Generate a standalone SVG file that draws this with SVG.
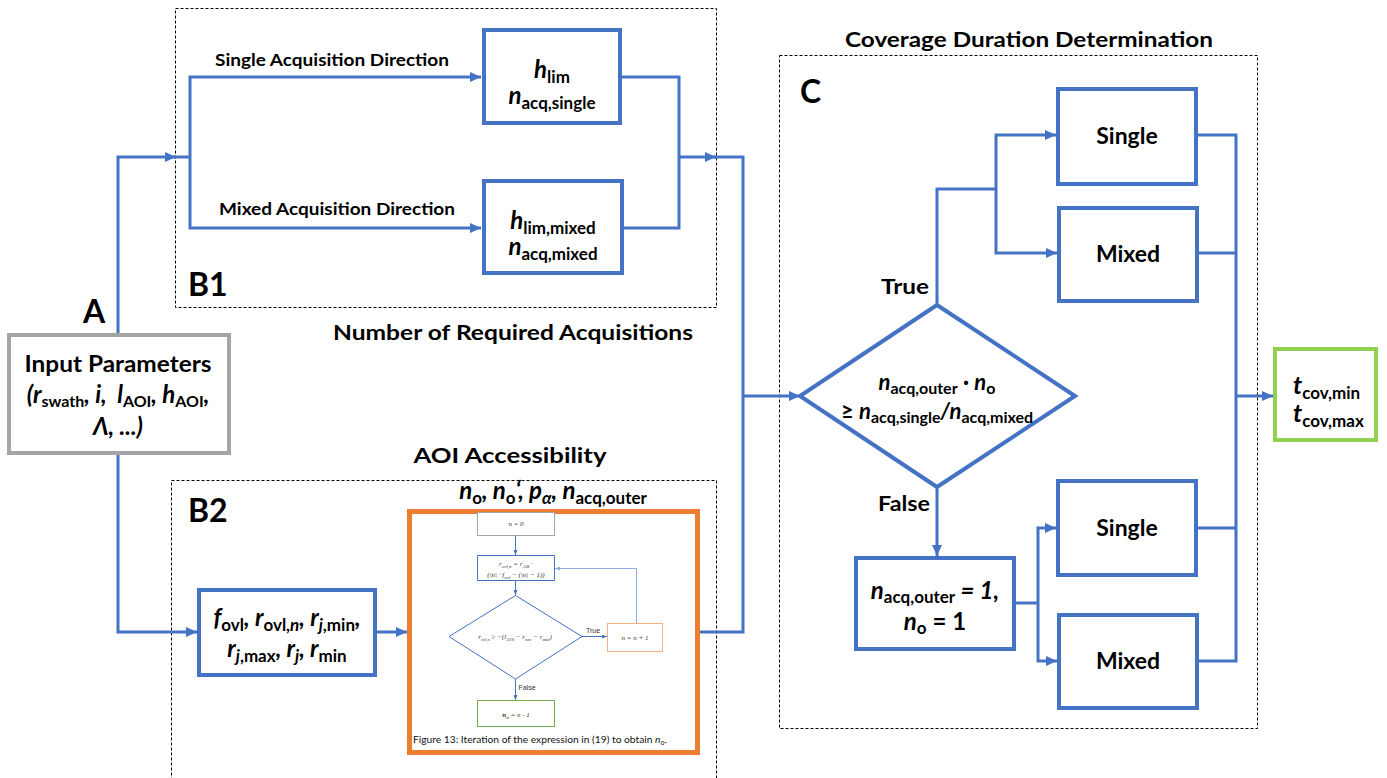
<svg xmlns="http://www.w3.org/2000/svg" width="1387" height="778" viewBox="0 0 1387 778">
<style>
.lbl{font-family:Lato,"Liberation Sans",sans-serif;font-weight:bold;fill:#000}
.m{font-family:Lato,"Liberation Sans",sans-serif;font-weight:bold;font-style:italic;fill:#000}
.s{font-style:normal}
.si{font-style:italic}
.box{fill:#fff;stroke:#4472C4;stroke-width:4}
.dash{fill:none;stroke:#000;stroke-width:1;stroke-dasharray:3,2}
.con{fill:none;stroke:#4472C4;stroke-width:3}
.thin{fill:none;stroke:#4472C4;stroke-width:1}
.tiny{font-family:"Liberation Serif",serif;font-style:italic;font-size:7px;fill:#333}
.tinys{font-family:"Liberation Sans",sans-serif;font-size:7px;fill:#333}
</style>
<defs>
<marker id="arr" markerUnits="userSpaceOnUse" markerWidth="11" markerHeight="10" refX="11" refY="5" orient="auto"><path d="M0,0 L11,5 L0,10 z" fill="#4472C4"/></marker>
<marker id="arrs" markerUnits="userSpaceOnUse" markerWidth="5" markerHeight="4" refX="5" refY="2" orient="auto"><path d="M0,0 L5,2 L0,4 z" fill="#4472C4"/></marker>
<marker id="arrl" markerUnits="userSpaceOnUse" markerWidth="5" markerHeight="4" refX="5" refY="2" orient="auto"><path d="M0,0 L5,2 L0,4 z" fill="#8FAADC"/></marker>
</defs>
<rect width="1387" height="778" fill="#fff"/>

<!-- region frames -->
<g id="regions">
<rect class="dash" x="175.5" y="8.5" width="541" height="299"/>
<rect class="dash" x="171.5" y="480.5" width="545" height="320"/>
<rect class="dash" x="779.5" y="55.5" width="478" height="673"/>
<text class="lbl" x="188" y="296" font-size="32">B1</text>
<text class="lbl" x="188" y="522" font-size="32">B2</text>
<text class="lbl" x="800" y="103" font-size="32">C</text>
<text class="lbl" x="83" y="323" font-size="32">A</text>
<text class="lbl" x="513" y="340" font-size="21" text-anchor="middle" textLength="360" lengthAdjust="spacingAndGlyphs">Number of Required Acquisitions</text>
<text class="lbl" x="1029" y="47" font-size="21" text-anchor="middle" textLength="368" lengthAdjust="spacingAndGlyphs">Coverage Duration Determination</text>
<text class="lbl" x="510" y="463" font-size="21" text-anchor="middle" textLength="193" lengthAdjust="spacingAndGlyphs">AOI Accessibility</text>
</g>

<!-- connectors -->
<g id="connectors">
<path class="con" d="M118,333 V157 H176" marker-end="url(#arr)"/>
<path class="con" d="M174,157 H190"/>
<path class="con" d="M190,157 V77 H481" marker-end="url(#arr)"/>
<path class="con" d="M190,157 V228 H481" marker-end="url(#arr)"/>
<path class="con" d="M622,77 H679 V228 H624"/>
<path class="con" d="M679,157 H716" marker-end="url(#arr)"/>
<path class="con" d="M714,157 H743 V632 H700"/>
<path class="con" d="M743,396 H800" marker-end="url(#arr)"/>
<path class="con" d="M118,455 V632 H197" marker-end="url(#arr)"/>
<path class="con" d="M377,632 H407" marker-end="url(#arr)"/>
<path class="con" d="M937,305 V189 H996"/>
<path class="con" d="M996,189 V135 H1056" marker-end="url(#arr)"/>
<path class="con" d="M996,189 V253 H1057" marker-end="url(#arr)"/>
<path class="con" d="M937,487 V556" marker-end="url(#arr)"/>
<path class="con" d="M1016,603 H1038"/>
<path class="con" d="M1038,603 V528 H1056" marker-end="url(#arr)"/>
<path class="con" d="M1038,603 V661 H1057" marker-end="url(#arr)"/>
<path class="con" d="M1197,135 H1236 V661 H1198"/>
<path class="con" d="M1198,253 H1236"/>
<path class="con" d="M1197,528 H1236"/>
<path class="con" d="M1236,396 H1273" marker-end="url(#arr)"/>
</g>

<!-- labels on connectors -->
<g id="edge-labels">
<text class="lbl" x="332" y="66" font-size="17" text-anchor="middle" textLength="234" lengthAdjust="spacingAndGlyphs">Single Acquisition Direction</text>
<text class="lbl" x="337" y="215" font-size="17" text-anchor="middle" textLength="236" lengthAdjust="spacingAndGlyphs">Mixed Acquisition Direction</text>
<text class="lbl" x="905" y="294" font-size="21" text-anchor="middle" textLength="48" lengthAdjust="spacingAndGlyphs">True</text>
<text class="lbl" x="904" y="511" font-size="21" text-anchor="middle" textLength="52" lengthAdjust="spacingAndGlyphs">False</text>
</g>

<!-- A: input parameters -->
<g id="input">
<rect x="9" y="335" width="220" height="118" fill="#fff" stroke="#A5A5A5" stroke-width="4"/>
<text class="lbl" x="118" y="372" font-size="22" text-anchor="middle" textLength="187" lengthAdjust="spacingAndGlyphs">Input Parameters</text>
<text class="m" x="118" y="403" font-size="24" text-anchor="middle">(r<tspan class="s" font-size="16" dy="4">swath</tspan><tspan dy="-4">, i,&#160; l</tspan><tspan class="s" font-size="16" dy="4">AOI</tspan><tspan dy="-4">, h</tspan><tspan class="s" font-size="16" dy="4">AOI</tspan><tspan dy="-4">,</tspan></text>
<text class="m" x="118" y="435" font-size="24" text-anchor="middle">Λ, ...)</text>
</g>

<!-- B1 boxes -->
<g id="b1-single">
<rect class="box" x="484" y="30" width="136" height="93"/>
<text class="m" x="552" y="78" font-size="24" text-anchor="middle">h<tspan class="s" font-size="17" dy="5">lim</tspan></text>
<text class="m" x="552" y="104" font-size="24" text-anchor="middle">n<tspan class="s" font-size="17" dy="5">acq,single</tspan></text>
</g>
<g id="b1-mixed">
<rect class="box" x="484" y="181" width="138" height="92"/>
<text class="m" x="553" y="229" font-size="24" text-anchor="middle">h<tspan class="s" font-size="17" dy="5">lim,mixed</tspan></text>
<text class="m" x="553" y="255" font-size="24" text-anchor="middle">n<tspan class="s" font-size="17" dy="5">acq,mixed</tspan></text>
</g>

<!-- B2 parameter box -->
<g id="b2-params">
<rect class="box" x="199" y="590" width="176" height="85"/>
<text class="m" x="287" y="626" font-size="24" text-anchor="middle">f<tspan class="s" font-size="17" dy="5">ovl</tspan><tspan dy="-5">, r</tspan><tspan class="s" font-size="17" dy="5">ovl,<tspan class="si">n</tspan></tspan><tspan dy="-5">, r</tspan><tspan class="si" font-size="17" dy="5">j</tspan><tspan class="s" font-size="17">,min</tspan><tspan dy="-5">,</tspan></text>
<text class="m" x="287" y="657" font-size="24" text-anchor="middle">r<tspan class="si" font-size="17" dy="5">j</tspan><tspan class="s" font-size="17">,max</tspan><tspan dy="-5">, r</tspan><tspan font-size="17" dy="5">j</tspan><tspan dy="-5">, r</tspan><tspan class="s" font-size="17" dy="5">min</tspan></text>
</g>

<!-- B2 embedded figure -->
<g id="b2-figure">
<text class="m" x="553" y="499" font-size="24" text-anchor="middle">n<tspan class="s" font-size="17" dy="5">o</tspan><tspan dy="-5">, n</tspan><tspan class="s" font-size="17" dy="5">o</tspan><tspan dy="-5">‘, p</tspan><tspan font-size="17" dy="5">α</tspan><tspan dy="-5">, n</tspan><tspan class="s" font-size="17" dy="5">acq,outer</tspan></text>
<rect x="409.5" y="511.5" width="288" height="241" fill="#fff" stroke="#ED7D31" stroke-width="5"/>
<rect x="477.5" y="512.5" width="77" height="23" fill="#fff" stroke="#A5A5A5" stroke-width="1"/>
<text class="tiny" x="516" y="526" text-anchor="middle">n = 0</text>
<path class="thin" d="M515.5,535.5 V555" marker-end="url(#arrs)"/>
<rect x="477.5" y="555.5" width="77" height="25" fill="#fff" stroke="#4472C4" stroke-width="1"/>
<text class="tiny" x="516" y="566" text-anchor="middle">r<tspan font-size="5" dy="1.5">ovl,n</tspan><tspan dy="-1.5"> = r</tspan><tspan font-size="5" font-style="normal" dy="1.5">AR</tspan><tspan dy="-1.5"> ·</tspan></text>
<text class="tiny" x="516" y="577" text-anchor="middle">(|n| · f<tspan font-size="5" dy="1.5">ovl</tspan><tspan dy="-1.5"> − (|n| − 1))</tspan></text>
<path class="thin" d="M515.5,580.5 V595" marker-end="url(#arrs)"/>
<path d="M515.5,595.5 L582,636.5 L515.5,679 L449,636.5 Z" fill="#fff" stroke="#4472C4" stroke-width="1"/>
<text class="tiny" x="515" y="639" font-size="6.5" text-anchor="middle">r<tspan font-size="4.5" dy="1.5">ovl,n</tspan><tspan dy="-1.5"> ≥ −(l</tspan><tspan font-size="4.5" font-style="normal" dy="1.5">AOI</tspan><tspan dy="-1.5"> − r</tspan><tspan font-size="4.5" font-style="normal" dy="1.5">cov</tspan><tspan dy="-1.5"> − r</tspan><tspan font-size="4.5" font-style="normal" dy="1.5">min</tspan><tspan dy="-1.5">)</tspan></text>
<path class="thin" d="M582,636.5 H607" marker-end="url(#arrs)"/>
<text class="tinys" x="593" y="633" text-anchor="middle">True</text>
<rect x="607.5" y="623.5" width="55" height="28" fill="#fff" stroke="#F4B183" stroke-width="1"/>
<text class="tiny" x="635" y="640" text-anchor="middle">n = n + 1</text>
<path d="M636.5,623 V568.5 H555" fill="none" stroke="#8FAADC" stroke-width="1" marker-end="url(#arrl)"/>
<path class="thin" d="M515.5,679 V700" marker-end="url(#arrs)"/>
<text class="tinys" x="527" y="690" text-anchor="middle">False</text>
<rect x="477.5" y="700.5" width="77" height="26" fill="#fff" stroke="#70AD47" stroke-width="1"/>
<text class="tiny" x="516" y="717" text-anchor="middle"><tspan font-weight="bold">n</tspan><tspan font-size="5" font-weight="bold" dy="1.5">o</tspan><tspan dy="-1.5"> = n - 1</tspan></text>
<text x="540" y="743" font-family="Lato,'Liberation Sans',sans-serif" font-size="10" fill="#111" text-anchor="middle" textLength="254" lengthAdjust="spacingAndGlyphs">Figure 13: Iteration of the expression in (19) to obtain <tspan font-style="italic">n</tspan><tspan font-size="7" dy="2">o</tspan><tspan dy="-2">.</tspan></text>
</g>

<!-- C: decision -->
<g id="decision">
<path d="M937,305 L1075,396 L937,487 L800,396 Z" fill="#fff" stroke="#4472C4" stroke-width="4"/>
<text class="m" x="937" y="390" font-size="22" text-anchor="middle">n<tspan class="s" font-size="16" dy="4">acq,outer</tspan><tspan class="s" dy="-4"> · </tspan>n<tspan class="s" font-size="16" dy="4">o</tspan></text>
<text class="m" x="937" y="419" font-size="22" text-anchor="middle"><tspan class="s">≥ </tspan>n<tspan class="s" font-size="16" dy="4">acq,single</tspan><tspan dy="-4">/n</tspan><tspan class="s" font-size="16" dy="4">acq,mixed</tspan></text>
</g>

<g id="c-single-true">
<rect class="box" x="1058" y="89" width="138" height="95"/>
<text class="lbl" x="1127" y="144" font-size="23" text-anchor="middle">Single</text>
</g>
<g id="c-mixed-true">
<rect class="box" x="1059" y="208" width="138" height="93"/>
<text class="lbl" x="1128" y="262" font-size="23" text-anchor="middle">Mixed</text>
</g>
<g id="c-false-set">
<rect class="box" x="856" y="558" width="158" height="91"/>
<text class="m" x="935" y="599" font-size="24" text-anchor="middle">n<tspan class="s" font-size="17" dy="4">acq,outer</tspan><tspan dy="-4"> = 1,</tspan></text>
<text class="m" x="935" y="630" font-size="24" text-anchor="middle">n<tspan class="s" font-size="17" dy="4">o</tspan><tspan class="s" dy="-4"> = 1</tspan></text>
</g>
<g id="c-single-false">
<rect class="box" x="1058" y="481" width="138" height="94"/>
<text class="lbl" x="1127" y="536" font-size="23" text-anchor="middle">Single</text>
</g>
<g id="c-mixed-false">
<rect class="box" x="1059" y="615" width="138" height="93"/>
<text class="lbl" x="1128" y="669" font-size="23" text-anchor="middle">Mixed</text>
</g>

<g id="output">
<rect x="1275" y="349" width="101" height="91" fill="#fff" stroke="#92D050" stroke-width="4"/>
<text class="m" x="1293" y="394" font-size="25">t<tspan class="s" font-size="17" dy="5">cov,min</tspan></text>
<text class="m" x="1293" y="422" font-size="25">t<tspan class="s" font-size="17" dy="5">cov,max</tspan></text>
</g>
</svg>
